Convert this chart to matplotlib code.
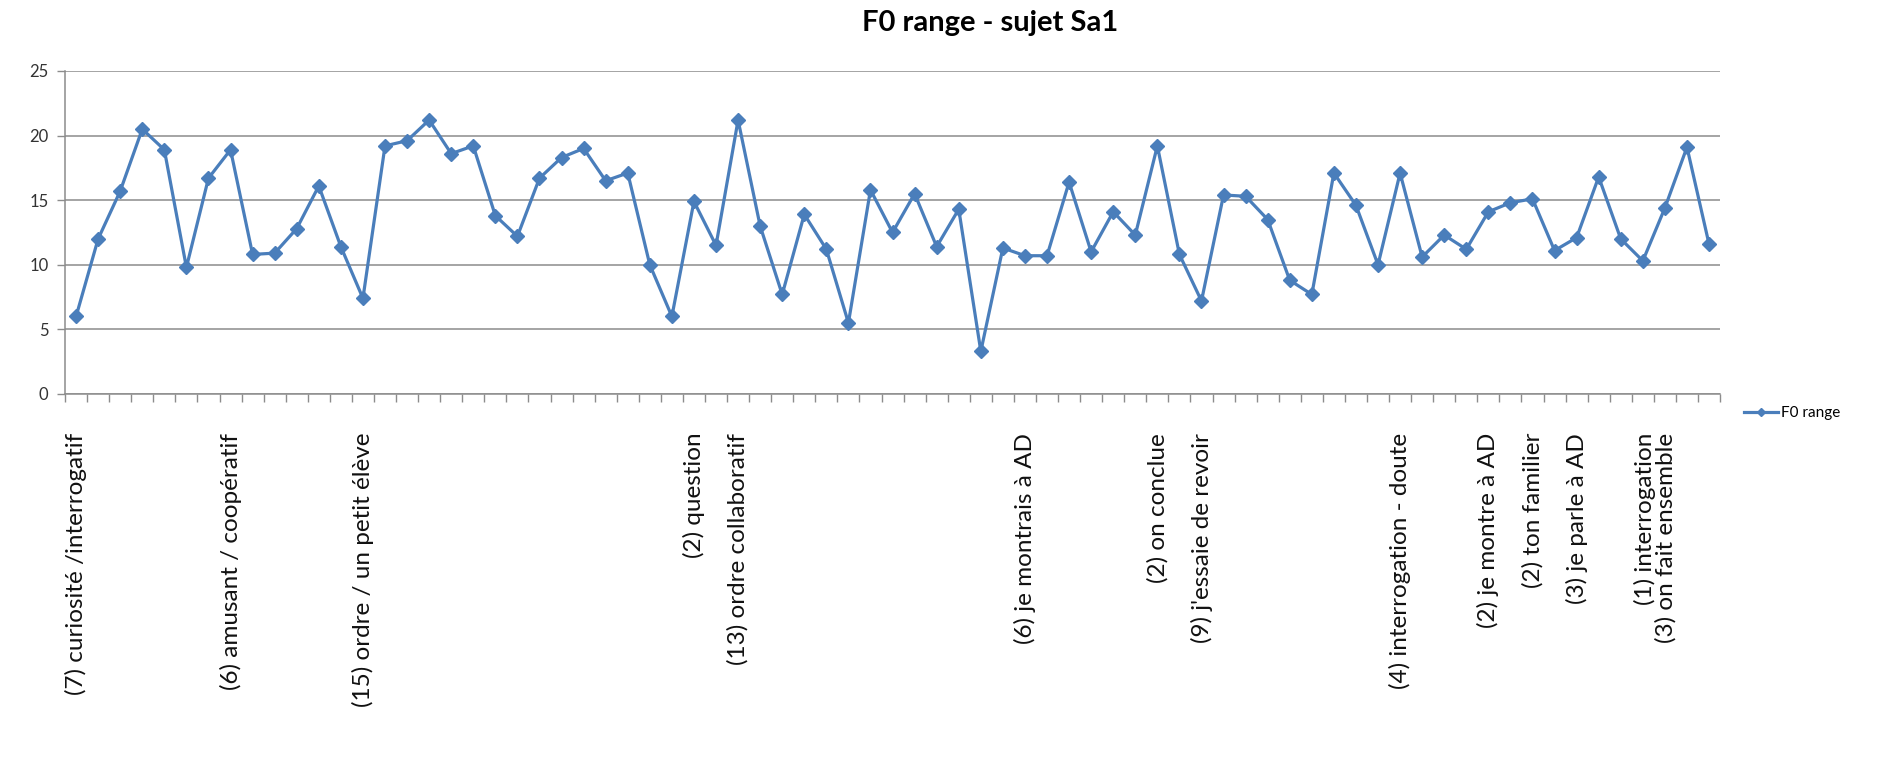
import matplotlib
matplotlib.use("Agg")
import matplotlib.pyplot as plt
import numpy as np

plt.rcParams['font.family'] = ['Lato', 'DejaVu Sans']

# F0 range per enonce (75 points)
f0_range = [6.0, 12.0, 15.7, 20.5, 18.9, 9.8, 16.7, 18.9, 10.8, 10.9,
            12.8, 16.1, 11.4, 7.4, 19.2, 19.6, 21.2, 18.6, 19.2, 13.8,
            12.2, 16.7, 18.3, 19.0, 16.5, 17.1, 10.0, 6.0, 14.9, 11.5,
            21.2, 13.0, 7.7, 13.9, 11.2, 5.5, 15.8, 12.5, 15.5, 11.4,
            14.3, 3.3, 11.3, 10.7, 10.7, 16.4, 11.0, 14.1, 12.3, 19.2,
            10.8, 7.2, 15.4, 15.3, 13.5, 8.8, 7.7, 17.1, 14.6, 10.0,
            17.1, 10.6, 12.3, 11.2, 14.1, 14.8, 15.1, 11.1, 12.1, 16.8,
            12.0, 10.3, 14.4, 19.1, 11.6]

# categories qui ont une etiquette
label_idx = [0, 7, 13, 28, 30, 43, 49, 51, 60, 64, 66, 68, 71]
label_txt = ["(7) curiosité /interrogatif",
             "(6) amusant / coopératif",
             "(15) ordre / un petit élève",
             "(2) question",
             "(13) ordre collaboratif",
             "(6) je montrais à AD",
             "(2) on conclue",
             "(9) j'essaie de revoir",
             "(4) interrogation - doute",
             "(2) je montre à AD",
             "(2) ton familier",
             "(3) je parle à AD",
             "(1) interrogation\n(3) on fait ensemble"]

yticks = [0, 5, 10, 15, 20, 25]

blue = '#4A7EBB'
grey = '#8C8C8C'

fig = plt.figure(figsize=(18.85, 7.71), dpi=100)
ax = fig.add_axes([0.0345, 0.489, 0.878, 0.419])

x = np.arange(len(f0_range))
ax.plot(x, f0_range, color=blue, lw=2.3, marker='D', ms=7,
        markeredgecolor=blue, label='F0 range')

ax.set_xlim(-0.5, len(f0_range) - 0.5)
ax.set_ylim(0, 25)
ax.set_yticks(yticks)
ax.yaxis.grid(True, color=grey, lw=1.1)
ax.set_axisbelow(True)
for s in ['top', 'right']:
    ax.spines[s].set_visible(False)
for s in ['left', 'bottom']:
    ax.spines[s].set_color(grey)
    ax.spines[s].set_linewidth(1.1)

# ticks entre les categories (style Excel)
ax.set_xticks(np.arange(len(f0_range) + 1) - 0.5)
ax.set_xticklabels([])
ax.tick_params(axis='x', length=6, width=1, color=grey, direction='out')
ax.tick_params(axis='y', length=6, width=1, color=grey, labelsize=12,
               labelcolor='#333333', pad=6)

for i, t in zip(label_idx, label_txt):
    n = t.count('\n')
    ax.annotate(t, xy=(i, 0), xycoords=('data', 'axes fraction'),
                xytext=(n * 9, -28), textcoords='offset points',
                rotation=90, ha='center', va='top', multialignment='right',
                fontsize=17.5, color='#111111', linespacing=0.95)

fig.text(0.525, 0.97, 'F0 range - sujet Sa1', fontsize=21, fontweight='bold',
         ha='center', va='center')

fig.legend(loc='center left', bbox_to_anchor=(0.918, 0.464), frameon=False,
           fontsize=11, handlelength=2.2, handletextpad=0.2, markerscale=0.6)

fig.savefig('out.png', dpi=100)
